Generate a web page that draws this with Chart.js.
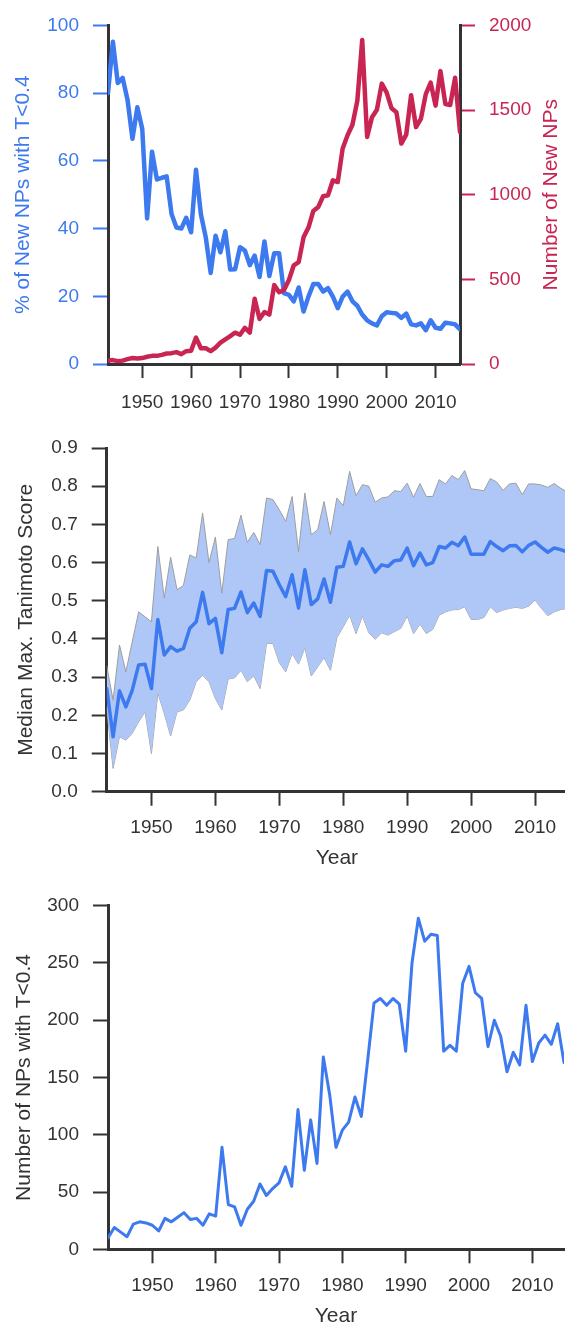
<!DOCTYPE html>
<html>
<head>
<meta charset="utf-8">
<title>Natural products by year</title>
<script src="https://cdn.jsdelivr.net/npm/chart.js@4.4.1/dist/chart.umd.min.js"></script>
<style>
  html, body { margin: 0; padding: 0; background: #fff; }
  body { width: 565px; height: 1328px; overflow: hidden; position: relative; }
  canvas { position: absolute; left: 0; }
</style>
</head>
<body>
<canvas id="c1" width="565" height="420" style="top:0px"></canvas>
<canvas id="c2" width="575" height="460" style="top:420px"></canvas>
<canvas id="c3" width="565" height="470" style="top:880px"></canvas>
<script>
// Years covered by every series
const years = [
  1943, 1944, 1945, 1946, 1947, 1948, 1949, 1950,
  1951, 1952, 1953, 1954, 1955, 1956, 1957, 1958, 1959, 1960,
  1961, 1962, 1963, 1964, 1965, 1966, 1967, 1968, 1969, 1970,
  1971, 1972, 1973, 1974, 1975, 1976, 1977, 1978, 1979, 1980,
  1981, 1982, 1983, 1984, 1985, 1986, 1987, 1988, 1989, 1990,
  1991, 1992, 1993, 1994, 1995, 1996, 1997, 1998, 1999, 2000,
  2001, 2002, 2003, 2004, 2005, 2006, 2007, 2008, 2009, 2010,
  2011, 2012, 2013, 2014, 2015
];
const yearTicks = [1950, 1960, 1970, 1980, 1990, 2000, 2010];

// Top panel: share of new NPs with T<0.4 (%) and count of new NPs
const pctLowT = [
  80, 95.2, 83, 84.5, 78, 66.5, 75.8, 69.5,
  43, 62.7, 54.5, 55, 55.4, 44.3, 40.3, 40, 43.2, 38.9,
  57.4, 44.2, 37.4, 26.9, 37.9, 33, 39.2, 27.9, 28, 34.5,
  33.5, 29.2, 32, 25.7, 36.2, 26, 32.7, 32.7, 20.9, 20.4,
  18.5, 22.6, 15.5, 19.9, 23.6, 23.6, 21.4, 22.4, 19.9, 16.5,
  19.9, 21.4, 18.5, 17.2, 14.6, 12.9, 12, 11.4, 14.1, 15.3,
  15.1, 14.9, 13.6, 14.9, 11.7, 11.4, 12, 10, 12.9, 10.7,
  10.4, 12.2, 12, 11.7, 10.2
];
const newNPs = [
  20, 23, 17, 20, 29, 35, 33, 35,
  43, 48, 48, 54, 62, 64, 70, 58, 76, 78,
  156, 93, 93, 76, 97, 126, 146, 165, 185, 173,
  214, 185, 385, 266, 307, 292, 466, 424, 437, 496,
  583, 602, 748, 806, 904, 927, 991, 997, 1085, 1075,
  1273, 1351, 1413, 1555, 1914, 1341, 1458, 1502, 1656, 1603,
  1510, 1487, 1302, 1355, 1588, 1399, 1448, 1594, 1662, 1526,
  1730, 1536, 1530, 1691, 1370
];
const pctTicks = [0, 20, 40, 60, 80, 100];
const countTicks = [0, 500, 1000, 1500, 2000];

// Middle panel: median max. Tanimoto score with its spread band
const medianT = [
  0.27, 0.144, 0.264, 0.222, 0.266, 0.332, 0.334, 0.27,
  0.451, 0.358, 0.38, 0.368, 0.375, 0.428, 0.445, 0.522, 0.44, 0.454,
  0.364, 0.477, 0.48, 0.523, 0.469, 0.494, 0.459, 0.579, 0.577, 0.542,
  0.511, 0.568, 0.481, 0.581, 0.49, 0.505, 0.557, 0.496, 0.588, 0.59,
  0.654, 0.597, 0.636, 0.607, 0.575, 0.594, 0.59, 0.605, 0.607, 0.638,
  0.592, 0.625, 0.594, 0.6, 0.642, 0.638, 0.653, 0.644, 0.667, 0.622,
  0.622, 0.622, 0.655, 0.642, 0.631, 0.644, 0.645, 0.628, 0.645, 0.654,
  0.64, 0.627, 0.638, 0.634, 0.628
];
const upperT = [
  0.33, 0.24, 0.384, 0.314, 0.393, 0.471, 0.458, 0.445,
  0.642, 0.507, 0.614, 0.529, 0.54, 0.62, 0.612, 0.73, 0.6, 0.667,
  0.52, 0.66, 0.663, 0.724, 0.653, 0.679, 0.647, 0.769, 0.765, 0.738,
  0.708, 0.773, 0.629, 0.782, 0.673, 0.686, 0.76, 0.673, 0.769, 0.749,
  0.839, 0.775, 0.804, 0.8, 0.758, 0.769, 0.772, 0.788, 0.786, 0.808,
  0.771, 0.807, 0.773, 0.773, 0.817, 0.806, 0.828, 0.817, 0.841, 0.793,
  0.791, 0.788, 0.82, 0.811, 0.789, 0.806, 0.808, 0.778, 0.806, 0.806,
  0.803, 0.797, 0.807, 0.795, 0.785
];
const lowerT = [
  0.22, 0.061, 0.144, 0.135, 0.153, 0.183, 0.209, 0.1,
  0.259, 0.205, 0.146, 0.209, 0.214, 0.24, 0.288, 0.305, 0.288, 0.244,
  0.214, 0.295, 0.298, 0.318, 0.288, 0.303, 0.27, 0.388, 0.388, 0.338,
  0.314, 0.362, 0.334, 0.377, 0.303, 0.327, 0.351, 0.318, 0.403, 0.432,
  0.462, 0.414, 0.46, 0.416, 0.399, 0.416, 0.41, 0.419, 0.428, 0.46,
  0.414, 0.439, 0.414, 0.425, 0.462, 0.471, 0.476, 0.477, 0.484, 0.451,
  0.451, 0.456, 0.484, 0.469, 0.476, 0.48, 0.483, 0.48, 0.486, 0.502,
  0.48, 0.461, 0.471, 0.477, 0.48
];
const scoreTicks = [0, 0.1, 0.2, 0.3, 0.4, 0.5, 0.6, 0.7, 0.8, 0.9];

// Bottom panel: number of NPs with T<0.4
const lowTCount = [
  10, 19, 15, 11, 22, 24, 23, 21,
  16, 27, 24, 28, 32, 26, 27, 21, 31, 29,
  89, 39, 37, 21, 35, 42, 57, 47, 53, 58,
  72, 55, 122, 69, 113, 75, 168, 135, 89, 104,
  111, 133, 116, 165, 215, 219, 213, 219, 214, 173,
  250, 289, 269, 275, 274, 173, 178, 173, 232, 247,
  224, 219, 177, 200, 186, 155, 172, 161, 213, 164,
  180, 187, 179, 197, 163
];
const lowTTicks = [0, 50, 100, 150, 200, 250, 300];

// ---- styling ----
const FONT = "'Liberation Sans', Arial, Helvetica, sans-serif";
const INK = '#333333';
const BLUE = '#3d79ef';
const RED = '#c92552';
const BAND = '#afc7f6';

const pts = vals => years.map((yr, i) => ({ x: yr, y: vals[i] }));
const fixTicks = list => scale => { scale.ticks = list.map(v => ({ value: v })); };

function xAxis(axisHeight, labelPad, withTitle, titlePad) {
  return {
    type: 'linear',
    position: 'bottom',
    min: 1943,
    max: 2015,
    afterBuildTicks: fixTicks(yearTicks),
    afterFit: s => { s.height = axisHeight; },
    border: { display: true, color: INK, width: 3 },
    grid: { drawOnChartArea: false, drawTicks: true, tickLength: 14, tickWidth: 2, tickColor: INK },
    ticks: { color: INK, padding: labelPad, font: { family: FONT, size: 19 }, maxRotation: 0, callback: v => String(v) },
    title: {
      display: withTitle, text: 'Year', color: INK,
      font: { family: FONT, size: 21 }, padding: { top: 0, bottom: titlePad }
    }
  };
}

function yAxis(opts) {
  return {
    type: 'linear',
    position: opts.position,
    min: opts.min,
    max: opts.max,
    afterBuildTicks: fixTicks(opts.ticks),
    afterFit: s => { s.width = opts.width; },
    border: { display: true, color: INK, width: 3 },
    grid: { drawOnChartArea: false, drawTicks: true, tickLength: 15, tickWidth: 2, tickColor: opts.tickColor },
    ticks: { color: opts.labelColor, padding: 14, font: { family: FONT, size: 19 }, callback: opts.format },
    title: {
      display: !!opts.title, text: opts.title || '', color: opts.titleColor || INK,
      font: { family: FONT, size: 21 }, padding: { top: opts.titlePad || 0, bottom: 0 }
    }
  };
}

const common = {
  responsive: false,
  animation: false,
  devicePixelRatio: 1,
  events: [],
  plugins: { legend: { display: false }, tooltip: { enabled: false } },
  elements: { point: { radius: 0 }, line: { tension: 0, borderJoinStyle: 'round', borderCapStyle: 'round' } }
};

// Title of the right-hand count axis, written bottom-to-top like the left one
const rightTitle = {
  id: 'rightTitle',
  afterDraw(chart) {
    const ctx = chart.ctx;
    const s = chart.scales.yCount;
    ctx.save();
    ctx.translate(s.right - 13.3, (s.top + s.bottom) / 2);
    ctx.rotate(-Math.PI / 2);
    ctx.font = '21px ' + FONT;
    ctx.fillStyle = RED;
    ctx.textAlign = 'center';
    ctx.textBaseline = 'middle';
    ctx.fillText('Number of New NPs', 0, 0);
    ctx.restore();
  }
};

// Panel 1
new Chart(document.getElementById('c1'), {
  type: 'line',
  data: {
    datasets: [
      { data: pts(newNPs), yAxisID: 'yCount', borderColor: RED, borderWidth: 4.5, fill: false },
      { data: pts(pctLowT), yAxisID: 'yPct', borderColor: BLUE, borderWidth: 4.5, fill: false }
    ]
  },
  options: Object.assign({}, common, {
    layout: { padding: { top: 22, left: 0, right: 0, bottom: 0 } },
    scales: {
      x: xAxis(56, 13, false, 0),
      yPct: yAxis({
        position: 'left', min: 0, max: 100, ticks: pctTicks, width: 108,
        tickColor: BLUE, labelColor: BLUE, titleColor: BLUE,
        title: '% of New NPs with T<0.4', titlePad: 10.4, format: v => String(v)
      }),
      yCount: yAxis({
        position: 'right', min: 0, max: 2000, ticks: countTicks, width: 105,
        tickColor: RED, labelColor: RED, format: v => String(v)
      })
    }
  }),
  plugins: [rightTitle]
});

// Panel 2
new Chart(document.getElementById('c2'), {
  type: 'line',
  data: {
    datasets: [
      { data: pts(medianT), borderColor: BLUE, borderWidth: 3.5, fill: false },
      { data: pts(upperT), borderColor: '#9e9e9e', borderWidth: 1, backgroundColor: BAND, fill: '+1' },
      { data: pts(lowerT), borderColor: '#9e9e9e', borderWidth: 1, fill: false }
    ]
  },
  options: Object.assign({}, common, {
    layout: { padding: { top: 28, left: 0, right: 8, bottom: 0 } },
    scales: {
      x: xAxis(88.3, 11, true, 9.4),
      y: yAxis({
        position: 'left', min: 0, max: 0.9, ticks: scoreTicks, width: 106.7,
        tickColor: INK, labelColor: INK,
        title: 'Median Max. Tanimoto Score', titlePad: 14.1, format: v => v.toFixed(1)
      })
    }
  })
});

// Panel 3
new Chart(document.getElementById('c3'), {
  type: 'line',
  data: {
    datasets: [
      { data: pts(lowTCount), borderColor: BLUE, borderWidth: 3, fill: false }
    ]
  },
  options: Object.assign({}, common, {
    layout: { padding: { top: 25.7, left: 0, right: 1, bottom: 0 } },
    scales: {
      x: xAxis(100.7, 11, true, 21.4),
      y: yAxis({
        position: 'left', min: 0, max: 300, ticks: lowTTicks, width: 108,
        tickColor: INK, labelColor: INK,
        title: 'Number of NPs with T<0.4', titlePad: 11.4, format: v => String(v)
      })
    }
  })
});
</script>
</body>
</html>
